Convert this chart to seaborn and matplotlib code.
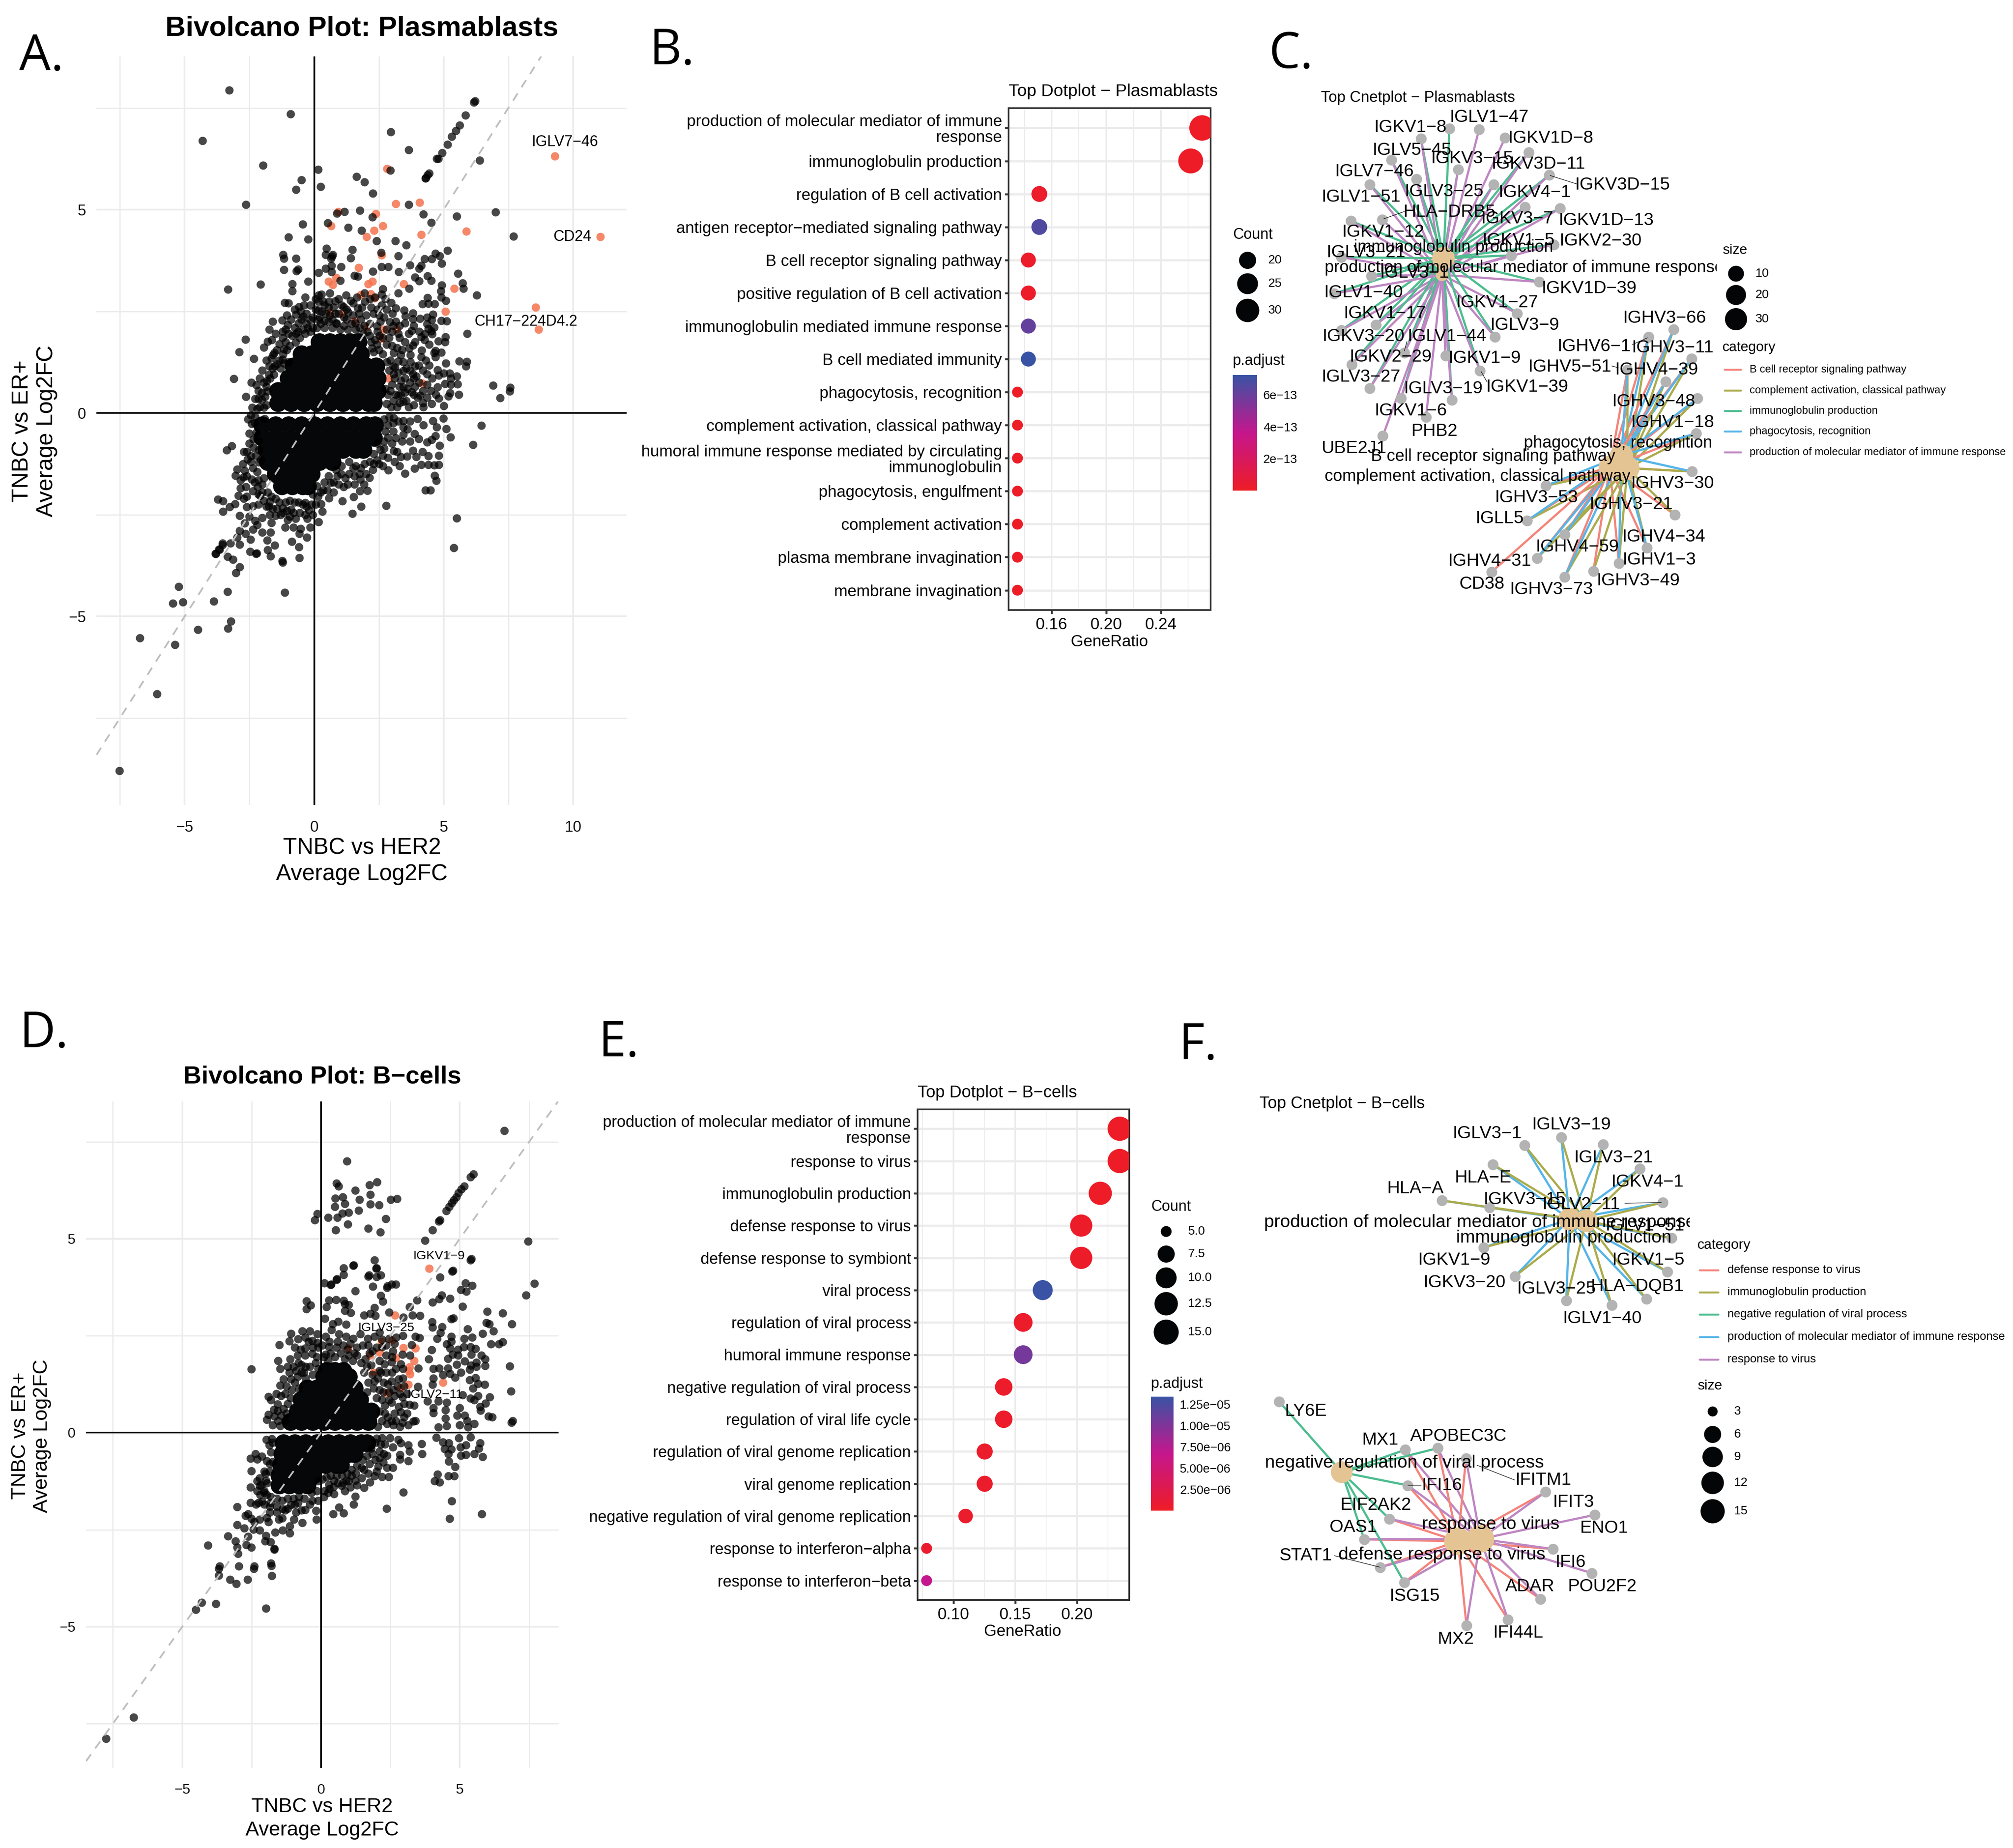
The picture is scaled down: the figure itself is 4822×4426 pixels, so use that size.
import numpy as np
import pandas as pd
import matplotlib
matplotlib.use("Agg")
import matplotlib.pyplot as plt
from matplotlib.colors import LinearSegmentedColormap, Normalize
from matplotlib.cm import ScalarMappable
import seaborn as sns

# ---------- volcano A values (log2FC pairs) ----------
a_core = [(-1.4,.25),(-.9,.25),(-.4,.25),(.1,.25),(.6,.25),(1.1,.25),(1.6,.25),(2.1,.25),(2.3,.25),
 (-1.4,.55),(-.9,.55),(-.4,.55),(.1,.55),(.6,.55),(1.1,.55),(1.6,.55),(2.1,.55),(2.45,.55),
 (-1.0,.85),(-.5,.85),(0,.85),(.5,.85),(1,.85),(1.5,.85),(2,.85),(2.45,.85),
 (-.8,1.15),(-.4,1.15),(0,1.15),(.5,1.15),(1,1.15),(1.5,1.15),(2,1.15),(2.4,1.15),
 (-.5,1.45),(-.1,1.45),(.4,1.45),(.9,1.45),(1.4,1.45),(1.8,1.45),
 (.2,1.75),(.6,1.75),(1,1.75),(1.4,1.75),(1.7,1.75),
 (-2,-.3),(-1.5,-.3),(-1,-.3),(-.5,-.3),(0,-.3),(.5,-.3),(1,-.3),(1.5,-.3),(2,-.3),(2.35,-.3),
 (-2,-.6),(-1.5,-.6),(-1,-.6),(-.5,-.6),(0,-.6),(.5,-.6),(1,-.6),(1.5,-.6),(2,-.6),(2.3,-.6),
 (-1.85,-.9),(-1.4,-.9),(-.9,-.9),(-.4,-.9),(.1,-.9),(.6,-.9),(1.1,-.9),(1.6,-.9),(1.9,-.9),
 (-1.8,-1.2),(-1.3,-1.2),(-.8,-1.2),(-.3,-1.2),(.2,-1.2),(.7,-1.2),
 (-1.5,-1.5),(-1.1,-1.5),(-.7,-1.5),(-.3,-1.5),(-.1,-1.5),
 (-1.25,-1.8),(-.85,-1.8),(-.45,-1.8),(-.25,-1.8)]
a_left = [(-1.2,3.89),(-1.17,3.8),(-.7,3.8),(-1.17,3.52),(-.62,3.53),(-.69,3.49),(-.23,3.24),(-.84,3.17),(-.85,3.0),
 (-2.08,3.16),(-3.33,3.04),(-1.14,2.71),(-.99,2.7),(-.59,2.61),(-.53,2.5),(-.7,2.42),(-.43,2.37),(-1.6,2.25),(-1.23,2.28),
 (-1.03,2.17),(-.6,2.21),(-.16,2.29),(-1.73,2.06),(-1.22,2.0),(-.99,1.95),(-.62,2.0),(-2.65,1.81),(-1.63,1.8),(-1.8,1.76),
 (-1.22,1.85),(-.71,1.74),(-1.95,1.61),(-2.9,1.5),(-1.17,1.57),(-1.54,1.48),(-1.59,1.43),(-2.33,1.34),(-1.22,1.32),
 (-1.74,1.15),(-1.52,1.15),(-1.17,1.22),(-3.1,.84),(-2.42,.75),(-2.24,.69),(-1.83,.79),(-2.03,.49),(-2.63,.4),(-2.28,.35),
 (-2.02,.33),(-2.4,.13),(-1.95,.13),(-1.82,.54)]
a_right_up = [(.44,3.89),(.72,3.89),(.65,3.8),(.67,3.63),(1.04,3.59),(1.41,3.81),(.44,3.55),(.67,3.47),(.17,3.45),(1.0,3.26),
 (1.55,3.38),(1.69,3.36),(2.27,3.48),(2.61,3.59),(2.87,3.59),(3.25,3.86),(2.58,3.94),(3.27,3.47),(4.27,3.79),(4.54,3.79),
 (4.68,3.92),(4.84,3.86),(4.93,3.68),(4.13,3.63),(4.06,3.55),(3.7,3.64),(3.9,3.34),(4.06,3.25),(4.38,3.37),(4.52,3.26),
 (5.56,3.43),(5.74,3.19),(5.77,3.06),(6.28,2.9),(4.93,3.14),(4.89,3.0),(4.91,2.85),(5.08,2.76),(4.38,2.84),(4.19,2.68),
 (4.41,2.69),(4.66,2.68),(3.48,2.53),(3.81,2.46),(4.59,2.42),(3.53,2.38),(3.81,2.31),(4.08,2.32),(4.36,2.35),(4.54,2.29),
 (4.91,2.27),(5.12,2.26),(3.51,2.21),(4.36,2.19),(4.64,2.11),(4.41,2.08),(3.76,2.02),(4.53,2.01),(5.91,1.95),(4.55,1.94),
 (4.27,1.94),(4.13,1.87),(3.3,1.85),(5.07,1.87),(5.06,1.75),(4.79,1.77),(4.27,1.8),(4.45,1.69),(3.82,1.66),(3.67,1.59),
 (4.16,1.54),(4.68,1.53),(4.91,1.49),(4.64,1.48),(3.07,1.48),(3.35,1.43),(3.71,1.43),(4.13,1.38),(4.68,1.38),(3.25,1.27),
 (3.71,1.25),(4.32,1.3),(4.04,1.17),(4.45,1.17),(5.08,1.22),(5.61,1.27),(5.9,1.26),(5.86,1.15),(3.44,1.04),(3.12,1.12),
 (3.07,.96),(4.77,1.06),(5.0,.98),(5.24,.98),(3.81,.96),(4.36,.96),(4.82,.93),(5.51,.91),(3.85,.85),(5.28,.85),(3.44,.64),
 (4.36,.7),(4.77,.64),(5.05,.72),(5.28,.7),(5.54,.71),(3.35,.8),(3.76,.51),(4.08,.43),(4.36,.38),(4.82,.36),(5.25,.49),
 (5.19,.41),(5.59,.45),(6.91,.68),(7.57,.63),(7.55,.54),(7.19,.37),(3.25,.43),(3.44,.28),(3.85,.2),(4.22,.15),(4.54,.23),
 (5.0,.18),(2.98,.15),(2.79,.23),(3.99,.38),(.17,2.9),(.28,2.92),(.6,2.95),(1.23,2.9),(1.41,2.76),(.17,2.74),(.35,2.74),
 (.58,2.74),(.81,2.75),(1.13,2.61),(1.69,2.58),(1.96,2.74),(.17,2.53),(.44,2.45),(.81,2.45),(1.32,2.48),(1.73,2.45),
 (3.02,2.45),(2.98,2.71),(2.61,2.92),(3.16,2.58),(.17,2.29),(.4,2.27),(.86,2.21),(1.59,2.21),(2.93,2.24),(2.42,2.14),
 (2.79,2.06),(2.52,1.9),(3.25,1.95),(2.15,1.9),(2.79,1.69),(2.42,1.69),(2.24,1.59),(2.65,3.05),(3.25,2.95),(3.67,3.06)]
a_lower = [(3.07,-.12),(3.44,-.19),(3.99,-.14),(4.59,-.19),(4.99,-.13),(4.73,-.35),(4.22,-.3),(3.44,-.35),(5.1,-.39),(5.26,-.59),
 (6.46,-.31),(6.13,-.78),(3.16,-.61),(3.44,-.53),(3.88,-.51),(4.04,-.64),(4.68,-.56),(4.54,-.66),(4.84,-.8),(4.36,-.72),
 (3.81,-.92),(4.18,-.95),(2.7,-.87),(3.07,-.93),(3.35,-1.08),(3.58,-1.07),(3.94,-1.08),(4.41,-1.06),(4.82,-1.05),(4.41,-1.27),
 (4.64,-1.28),(4.82,-1.27),(3.88,-1.36),(4.13,-1.27),(2.87,-1.41),(3.5,-1.49),(4.65,-1.54),(4.71,-1.66),(4.29,-1.9),(4.49,-1.9),
 (5.5,-2.59),(5.39,-3.32),(2.78,-2.28),(1.82,-2.3),(1.48,-2.47),(1.52,-2.06),(1.09,-2.16),(1.76,-1.92),(2.05,-1.91),(1.92,-1.75),
 (2.27,-1.4),(2.42,-1.16),(2.13,-1.59),(1.78,-1.63),(1.5,-1.35),(1.04,-1.5),(.63,-1.71),(1.13,-1.82),(.58,-2.09),(.26,-2.24),
 (.32,-2.42),(.17,-2.68),(-.16,-2.81),(-.27,-2.6),(-.28,-3.06),(-.53,-2.84),(-.87,-3.16),(-.59,-3.29),(-.58,-3.56),(-1.23,-3.63),
 (-1.68,-3.52),(-1.8,-3.37),(-2.21,-3.45),(-2.47,-3.41),(-1.52,-3.25),(-1.82,-3.13),(-2.88,-3.23),(-2.46,-3.11),(-2.65,-2.97),
 (-2.97,-3.06),(-3.54,-3.2),(-3.24,-3.2),(-3.66,-3.36),(-3.82,-3.46),(-3.34,-3.53),(-3.13,-3.6),(-2.88,-3.79),(-3.03,-3.93),
 (-2.88,-2.89),(-2.37,-2.86),(-2,-2.94),(-1.68,-2.94),(-1.12,-2.81),(-.8,-2.81),(-.57,-2.97),(-1.03,-2.63),(-1.49,-2.52),(-2,-2.58),
 (-2.28,-2.65),(-2.88,-2.52),(-2.69,-2.71),(-3.52,-2.42),(-3.27,-2.31),(-3.71,-2.12),(-3.52,-2.17),(-3.06,-2.24),(-2.92,-2.03),
 (-2.72,-2.1),(-2.6,-2.31),(-2.37,-2.29),(-3.38,-.91),(-3.19,-.81),(-2.71,-.95),(-2.44,-1.06),(-2.58,-1.14),(-2.14,-1.21),(-2.97,-1.38),
 (-3.04,-1.54),(-2.69,-1.42),(-2.74,-1.58),(-2.37,-1.35),(-2.41,-1.63),(-2.63,-1.82),(-2.18,-1.82),(-2.37,-1.92),(-2.28,-.09),
 (-2.41,-.27),(-2.23,-.48),(-2.14,-.69),(-2.14,-.9),(-1.91,-.14),(-2.09,-2.03),(-1.72,-2.18),(-1.22,-2.34),(-.34,-2.21),(-.89,-2.37),
 (-.71,-2.6),(-.2,-2.39),(-1.72,-2.5)]
a_fringe = [(-1.75,.95),(-1.6,1.1),(-1.45,1.2),(-1.3,1.1),(-1.2,1.45),(-1.05,1.55),(-1.1,1.75),(-.95,1.65),(-.85,1.9),(-.75,2.1),(-.7,1.95),
 (-.55,1.85),(-.45,2.05),(-.35,1.95),(-.25,2.1),(-.15,2.0),(-.05,2.1),(-.5,2.3),(-.3,2.2),(-1.85,.65),(-1.9,.4),(-1.85,.2),(-2.1,.15),(-2.15,.55),
 (-1.95,.75),(-1.7,.85),(-1.55,.95),(-1.35,1.3),(-1.0,1.25),(.1,2.1),(.25,2.2),(.4,2.1),(.55,2.25),(.7,2.1),(.85,2.2),(1.0,2.05),(1.15,2.15),(1.3,2.05),
 (1.45,2.2),(1.6,2.05),(1.75,2.1),(1.9,1.95),(2.05,2.0),(2.2,1.75),(2.35,1.8),(2.15,2.2),(2.3,2.45),(2.5,1.55),(2.65,1.45),(2.3,1.5),(2.8,1.25),(2.95,1.3),
 (3.05,1.15),(2.9,1.05),(3.1,.85),(3.0,.7),(2.95,.55),(3.15,.45),(3.05,.3),(2.85,.45),(2.75,.6),(3.3,.65),(3.5,.85),(3.25,1.0),(3.6,.6),(3.55,.3),(3.3,.25),
 (3.7,.75),(3.9,.65),(3.65,.15),(.3,2.5),(.6,2.4),(.95,2.45),(1.15,2.35),(1.5,2.4),(1.8,2.3),(2.0,2.4),(2.55,2.25),(2.7,2.35),(2.2,2.6),(2.45,2.55),(.05,2.55),
 (.2,2.35),(.55,2.6),(1.05,2.65),(1.5,2.7),(1.85,2.6),(2.35,2.85),(2.6,2.65),(2.8,2.55),(3.05,2.15),(3.15,2.25),(2.9,1.85),(3.0,1.65),(3.2,1.6),(3.5,1.75),
 (3.65,1.95),(3.85,2.15),(4.05,2.0),(3.9,1.75),(3.45,1.25),(3.9,1.15),(4.2,1.05),(4.55,.85),(4.7,.45),(4.2,.55),(4.5,.55),(3.95,.9),
 (-2.45,-.05),(-2.3,-.25),(-2.35,-.65),(-2.35,-.85),(-2.25,-1.05),(-2.05,-1.15),(-2.2,-1.45),(-2.15,-1.65),(-2.0,-1.75),(-1.95,-1.6),(-2,-1.95),(-1.8,-1.95),
 (-1.65,-2.05),(-1.5,-2.1),(-1.35,-2.2),(-1.1,-2.2),(-.95,-2.15),(-.75,-2.2),(-.6,-2.2),(-.45,-2.25),(-.3,-2.3),(-.1,-2.25),(-.05,-2.0),(.1,-1.8),(.25,-1.95),
 (.4,-1.7),(.35,-1.9),(.55,-1.55),(.75,-1.7),(.9,-1.55),(.85,-1.4),(1.05,-1.3),(1.2,-1.6),(1.35,-1.5),(1.55,-1.55),(1.35,-1.2),(1.6,-1.3),(1.8,-1.35),(1.95,-1.25),
 (2.15,-1.2),(2.3,-1.0),(2.55,-.9),(2.45,-.75),(2.7,-.7),(2.75,-.45),(2.85,-.3),(2.7,-.15),(2.9,-.1),(2.65,-1.05),(2.85,-1.1),(3.0,-.75),(3.2,-.95),(3.25,-.2),
 (3.6,-.4),(3.7,-.2),(3.7,-.7),(2.5,-1.25),(-1.2,-2.45),(-1.85,-2.3),(-1.6,-2.35),(-2.15,-2.25),(-2.6,-2.05),(-2.85,-1.85),(-2.6,-1.55),(-2.45,-1.2),(-2.85,-1.65)]
a_fringe_outer = [(-1.45,1.55),(-1.35,1.7),(-1.5,1.95),(-1.1,2.05),(-.9,2.3),(-1.05,2.4),(-.75,2.55),(-.3,2.45),(-.4,2.65),(-.05,2.35),(-.15,2.65),(-.35,2.85),
 (.05,2.8),(.4,2.65),(.75,2.6),(.95,2.8),(1.25,2.55),(1.65,2.85),(1.95,2.95),(2.15,2.8),(2.5,2.4),(2.75,2.8),(3.0,2.0),(2.65,1.85),(2.45,2.0),(1.95,2.15),(1.25,2.3),
 (.7,2.3),(3.3,2.15),(3.4,1.55),(3.55,1.1),(3.7,1.05),(3.35,.45),(3.85,.45),(4.05,.75),(4.2,.25),(3.2,.15),(3.5,.5),
 (-2.15,.35),(-2.2,.1),(-2.1,.85),(-2.0,1.05),(-1.85,1.3),(-1.65,1.35),(-2.55,-.15),(-2.5,-.5),(-2.5,-.75),(-2.6,-.95),(-2.75,-1.25),(-2.3,-1.7),
 (-2.15,-2.0),(-1.95,-2.15),(-1.75,-2.3),(-1.45,-2.35),(-1.3,-2.5),(-1.05,-2.4),(-.8,-2.45),(-.55,-2.45),(-.35,-2.5),(-.05,-2.5),(.05,-2.25),(.15,-2.05),(.5,-1.9),(.75,-1.95),(.95,-1.75),
 (1.3,-1.75),(1.55,-1.75),(1.75,-1.5),(2.0,-1.5),(2.3,-1.25),(2.65,-1.3),(2.85,-.6),(3.05,-.45),(3.4,-.7),(3.1,-1.2),(3.3,-1.3),(3.05,-.25),(-.95,-2.55),(-1.65,-2.7),(-2.2,-2.75),(-2.5,-2.55)]
a_far = [(-3.29,7.94),(-.91,7.35),(-4.32,6.7),(-1.97,6.09),(-.49,5.73),(-.7,5.49),(-2.64,5.13),(.16,5.99),(.25,5.57),(1.63,5.81),
 (1.94,5.68),(2.27,5.4),(2.94,5.97),(2.96,6.91),(3.65,6.47),(3.66,5.12),(1.17,4.95),(1.77,4.98),(.88,4.91),(2.25,4.82),(.52,4.67),
 (-.44,4.64),(1.31,4.56),(1.83,4.49),(-.99,4.32),(-.23,4.27),(2.41,4.23),(3.13,4.23),(4.21,4.89),(4.52,4.68),(5.51,4.84),(7.0,4.94),
 (7.7,4.34),(6.4,6.21),(6.21,7.67),(6.17,7.64),(5.85,7.32),(5.62,7.08),(5.48,6.94),(5.32,6.8),(5.15,6.6),(4.95,6.4),(4.79,6.25),
 (4.73,6.25),(4.44,5.9),(4.32,5.78),(4.29,5.77),(4.38,5.85),(.47,4.05),(.69,3.85),(1.47,4.02),
 (3.55,4.13),(5.15,4.0),(-1.14,-4.41),(-5.24,-4.27),(-5.46,-4.68),(-5.07,-4.65),(-3.88,-4.63),(-3.35,-4.39),(-3.22,-5.12),(-3.33,-5.3),(-4.49,-5.33),
 (-5.38,-5.7),(-6.74,-5.53),(-6.07,-6.91),(-7.53,-8.8),(-3.79,-3.46),(-3.54,-3.24),(-3.69,-3.36),
 (-1.22,-3.67),(-2.25,-3.46)]
a_hits = [(9.3,6.32),(11.05,4.33),(8.56,2.6),(8.67,2.05),(2.82,6.01),(4.07,5.18),(3.15,5.15),(.92,4.95),(2.38,4.9),(2.66,4.6),(.66,4.6),
 (2.32,4.49),(2.03,4.33),(5.88,4.47),(4.13,4.39),(2.61,3.88),(1.71,3.57),(.55,3.24),(.72,3.15),(.85,3.33),(3.46,3.17),(5.41,3.06),
 (1.8,2.91),(2.19,2.93),(2.33,2.82),(2.08,3.17),(2.25,3.24),(5.07,2.5),(1.08,2.43),(1.58,2.26),(2.68,2.05),(3.19,2.07),(2.02,2.12),
 (2.88,.85),(4.18,.73),(.61,2.47),(2.57,1.83)]
a_labels = ["IGLV7\u221246", "CD24", "CH17\u2212224D4.2"]
a_label_x = [9.69, 9.97, 8.17]
a_label_y = [6.66, 4.33, 2.24]

# ---------- volcano D values ----------
d_core = [(-1.1,.28),(-.7,.28),(-.3,.28),(.1,.28),(.5,.28),(.9,.28),(1.3,.28),(1.7,.28),
 (-.85,.55),(-.45,.55),(-.05,.55),(.35,.55),(.75,.55),(1.15,.55),(1.5,.55),(1.8,.55),
 (-.7,.85),(-.35,.85),(0,.85),(.35,.85),(.7,.85),(1.05,.85),(1.4,.85),
 (-.5,1.15),(-.15,1.15),(.2,1.15),(.55,1.15),(.9,1.15),(1.2,1.15),
 (.1,1.45),(.4,1.45),(.7,1.45),(1.0,1.45),(.2,1.6),(.5,1.6),(.8,1.6),
 (-1.35,-.27),(-.95,-.27),(-.55,-.27),(-.15,-.27),(.25,-.27),(.65,-.27),(1.05,-.27),(1.45,-.27),(1.65,-.27),
 (-1.4,-.55),(-1,-.55),(-.6,-.55),(-.2,-.55),(.2,-.55),(.6,-.55),(1,-.55),(1.2,-.55),
 (-1.45,-.82),(-1.05,-.82),(-.65,-.82),(-.25,-.82),(.15,-.82),(.55,-.82),(.7,-.82),
 (-1.5,-1.1),(-1.1,-1.1),(-.7,-1.1),(-.3,-1.1),(-1.5,-1.35),(-1.15,-1.35),(-.8,-1.35),(-.5,-1.35)]
d_upper = [(-2.51,1.64),(-1.51,2.26),(-1.15,2.36),(-1.08,2.55),(-1.55,1.86),(-1.47,1.65),(-1.11,1.9),(-1.0,1.7),(-.81,1.8),(-.67,2.62),
 (-.4,2.62),(-.14,2.54),(-.83,2.41),(-.57,2.46),(-.31,2.37),(-.14,2.32),(-.74,2.15),(-.57,2.18),(-.31,2.04),(-.57,1.99),(-.53,3.39),
 (-.38,3.29),(-.52,3.19),(-1.35,1.38),(-1.48,1.22),(-1.09,1.38),(-1.61,1.0),(-1.89,.93),(-1.8,.84),(-1.56,.74),(-1.3,1.0),(-1.56,.56),
 (-1.89,.47),(-1.95,.34),(-1.69,.42),(-1.48,.18),(-1.35,.62),(-.61,1.55),(.12,3.86),(.35,3.81),(.55,3.94),(.81,4.24),(.81,4.07),
 (1.16,4.31),(1.92,4.45),(1.98,4.23),(1.7,4.03),(2.0,4.02),(1.87,3.77),(1.24,3.65),(2.37,3.74),(2.54,3.83),(2.69,3.83),(2.15,3.53),
 (2.22,3.38),(.28,3.42),(.54,3.43),(.81,3.41),(1.0,3.3),(.85,3.32),(.19,3.24),(.85,3.15),(1.07,3.09),(1.93,3.22),(.14,2.94),(.42,2.8),
 (.62,2.87),(.9,2.79),(1.55,3.03),(1.78,3.07),(1.95,3.02),(2.45,3.1),(2.97,2.98),(3.29,3.03),(3.56,3.02),(3.19,3.24),(3.46,3.42),
 (4.02,3.36),(4.25,3.45),(4.35,3.55),(4.65,3.46),(5.1,3.26),(5.04,3.68),(5.24,3.64),(5.2,3.86),(5.44,3.79),(4.73,4.16),(4.28,4.01),
 (3.75,4.96),(5.39,4.45),(7.46,4.93),(7.68,3.85),(7.39,3.55),(5.99,3.13),(6.55,3.08),(6.88,2.8),(5.95,2.84),(6.06,2.8),(6.21,2.62),
 (5.82,2.55),(5.28,2.67),(4.7,2.93),(4.77,2.95),(4.0,2.86),(4.01,2.72),(4.37,2.73),(4.31,2.58),(4.18,2.43),(4.7,2.48),(5.16,2.43),
 (5.45,2.46),(3.98,2.14),(3.88,1.9),(4.53,2.29),(4.7,2.35),(4.65,2.18),(4.94,2.15),(5.15,2.21),(5.39,2.21),(5.56,2.17),(4.74,2.02),
 (4.94,2.0),(4.57,1.91),(5.41,2.02),(5.78,2.0),(5.91,1.9),(6.13,2.29),(6.41,2.29),(6.55,2.34),(6.8,1.71),(5.17,1.84),(5.6,1.81),
 (5.91,1.73),(4.89,1.76),(5.4,1.74),(5.6,1.7),(4.05,1.65),(4.25,1.66),(4.57,1.66),(5.35,1.63),(5.04,1.55),(4.4,1.49),(4.65,1.52),
 (4.83,1.42),(5.35,1.36),(5.56,1.41),(4.05,1.4),(5.65,1.26),(5.89,1.24),(4.02,1.24),(5.47,1.14),(5.1,.97),(5.39,.89),(6.84,1.07),
 (6.08,.92),(5.65,.95),(5.52,.84),(5.93,.76),(5.73,.67),(5.75,.57),(5.0,.64),(4.05,.64),(4.48,.59),(4.91,.45),(4.05,.51),(4.48,.37),
 (5.17,.45),(5.26,.31),(6.04,.42),(6.17,.4),(6.9,.31),(6.86,.26),(5.52,.23),(5.3,.14),(5.0,.2),(4.22,.14),(4.53,.18),(3.32,.29),(3.4,.31),
 (3.83,.81),(4.22,.81),(4.53,.78),(3.36,.7),(3.19,.73),(3.49,1.19),(2.93,.92),(2.8,.67),(2.88,.53),(2.93,.26),(2.54,.31),(2.37,.23),
 (2.54,.78),(2.71,2.46),(2.95,2.5),(3.4,2.48),(3.55,2.45),(3.27,2.26),(2.88,1.77),(3.51,1.66),(3.2,1.99),(2.58,2.1),(2.93,2.02),(2.8,1.38),
 (2.54,1.82),(2.28,1.77),(1.93,2.48),(2.11,2.59),(1.68,2.43),(1.42,2.54),(1.16,2.43),(.9,2.48),(.64,2.54),(.38,2.65),(.16,2.48),(.29,2.21),
 (.16,2.02),(2.45,2.43),(2.19,2.21),(2.54,1.33),(2.11,1.6),(1.93,1.33),(2.24,1.05),(2.45,.84)]
d_fringe = [(-1.3,.3),(-1.45,.45),(-1.25,.5),(-1.55,.3),(-1.2,.75),(-1.1,.9),(-1.05,1.1),(-.95,1.3),(-.85,1.45),(-.8,1.15),(-.7,1.55),(-.55,1.4),(-.4,1.7),
 (-.3,1.5),(-.2,1.8),(-.1,1.65),(-.7,1.75),(-.9,1.6),(-1.15,1.55),(-.85,2.0),(-.3,2.2),(-.15,1.95),(.1,1.95),(.25,1.85),(.35,2.05),(.5,1.95),(.7,2.05),(.85,1.9),
 (1,2.0),(1.15,1.85),(1.3,2.0),(1.45,1.8),(1.6,1.9),(1.3,2.2),(.8,2.25),(.55,2.2),(1.05,2.3),(1.5,2.25),(1.55,1.55),(1.65,1.7),(1.8,1.75),(1.7,1.3),(1.85,1.5),
 (1.65,1.05),(1.9,1.15),(2.05,1.4),(2.1,1.1),(2,.9),(2.2,.85),(2.3,.7),(2.3,.5),(2.1,.55),(2.2,.3),(2.05,.15),(2.4,.4),(2.65,.5),(2.6,.2),(2.25,1.3),(2.35,1.55),
 (2.6,1.1),(2.65,.95),(2.4,1.25),(2.55,1.55),(2.7,1.65),(2.1,1.85),(2.35,2.0),(1.85,2.1),(2.75,1.2),(2.85,1.0),(3.0,.75),(2.7,.3),(2.2,2.4),(2.65,2.3),(1.7,2.25),
 (-1.75,-.25),(-1.8,-.5),(-1.85,-.8),(-1.85,-1.0),(-1.95,-1.3),(-2.05,-1.5),(-1.95,-1.6),(-1.8,-1.65),(-1.6,-1.7),(-1.4,-1.75),(-1.2,-1.7),(-1.0,-1.7),(-.8,-1.65),
 (-.6,-1.7),(-.35,-1.55),(-.15,-1.5),(-.1,-1.25),(.05,-1.2),(.2,-1.15),(.35,-1.1),(.55,-1.1),(.75,-1.1),(.95,-1.05),(1.1,-.95),(1.3,-.85),(1.5,-.7),(1.65,-.6),
 (1.8,-.4),(1.95,-.25),(2.0,-.15),(2.15,-.3),(2.25,-.55),(1.1,-1.1),(.3,-1.45),(.45,-1.4),(-2.2,-1.6),(-2.3,-1.25),(-1.3,-2.0),(-.9,-2.05),(-1.6,-2.05),(-1.85,-2.05)]
d_fringe_outer = [(-1.7,.6),(-1.75,.2),(-1.45,.95),(-1.25,1.2),(-1.2,1.7),(-.95,2.2),(-.55,1.7),(-.45,2.35),(-.1,2.2),(.05,2.25),(.3,2.35),(.6,2.35),(.95,2.15),(1.2,2.05),
 (1.75,2.05),(2.0,2.2),(2.35,2.25),(2.55,1.95),(2.95,1.65),(2.95,1.4),(3.0,1.2),(3.1,1.0),(3.1,.5),(3.0,.4),(3.15,.2),(2.85,.15),(2.45,1.05),(2.15,1.55),
 (-1.75,-.75),(-2.0,-1.05),(-2.15,-1.35),(-2.3,-1.5),(-2.25,-1.8),(-2.05,-1.85),(-1.85,-1.9),(-1.6,-1.9),(-1.2,-1.95),(-.95,-1.85),(-.7,-2.0),(-.4,-1.85),(-.1,-1.75),(.1,-1.65),(.25,-1.55),
 (.6,-1.3),(.8,-1.3),(1.0,-1.25),(1.25,-1.05),(1.55,-.95),(1.75,-.8),(1.95,-.7),(2.1,-.65),(2.3,-.3),(2.0,-1.0),(1.7,-1.05),(1.3,-1.35),(.85,-1.5),(-1.9,-2.3),(-1.4,-2.2),(-2.4,-2.3)]
d_lower = [(2.19,-.14),(2.48,-.14),(2.78,-.18),(2.87,-.26),(3.14,-.32),(3.62,-.29),(3.64,-.55),(3.19,-.48),(2.58,-.37),(2.84,-.57),(2.84,-.69),
 (3.14,-.73),(2.37,-.59),(2.11,-.48),(1.85,-.54),(2.06,-.87),(2.37,-.9),(2.58,-.9),(2.24,-.76),(2.44,-1.14),(2.19,-1.14),(1.92,-1.12),
 (1.76,-1.28),(1.55,-1.42),(1.05,-1.41),(1.46,-1.17),(1.24,-1.64),(1.18,-1.85),(.64,-1.92),(.43,-2.1),(.81,-2.07),(-.18,-2.01),(-.16,-2.24),
 (-.67,-2.32),(.47,-1.58),(.47,-1.23),(.12,-1.5),(.73,-1.36),(.9,-1.23),(1.24,-1.23),(1.46,-.9),(.29,-1.34),(2.96,-1.54),(2.36,-1.95),
 (4.2,-1.07),(4.09,-1.24),(4.27,-1.28),(4.59,-1.12),(4.8,-1.12),(4.83,-.88),(4.61,-.74),(4.59,-.54),(4.7,-.43),(4.46,-.42),(4.15,-.13),
 (4.4,-.24),(4.61,-.26),(4.96,-.14),(5.39,-.11),(5.03,-.37),(5.22,-.32),(5.73,-.26),(5.68,-.4),(5.04,-.59),(5.22,-.57),(5.52,-.54),(5.82,-.62),
 (4.71,-1.76),(4.63,-2.21),(5.79,-2.09),(-1.97,-.18),(-1.78,-.16),(-1.87,-.32),(-2.36,-.54),(-2.54,-.66),(-2.14,-.61),(-2.3,-.68),(-1.95,-.73),
 (-2.51,-.99),(-2.04,-1.0),(-2.21,-1.17),(-1.99,-1.23),(-2.54,-1.41),(-2.21,-1.36),(-2.04,-1.55),(-2.54,-1.8),(-2.34,-1.85),(-3.03,-1.91),
 (-2.12,-1.77),(-1.82,-1.8),(-1.39,-1.97),(-1.09,-1.86),(-.57,-1.99),(-.31,-1.75),(-.83,-1.8),(-2.64,-2.1),(-2.73,-2.14),(-2.51,-2.21),
 (-2.21,-2.24),(-1.95,-2.19),(-1.52,-2.24),(-.98,-2.23),(-1.13,-2.41),(-1.39,-2.52),(-1.13,-2.59),(-1.65,-2.57),(-1.99,-2.65),(-2.21,-2.52),
 (-2.43,-2.49),(-2.77,-2.46),(-3.03,-2.38),(-3.35,-2.67),(-3.09,-2.79),(-2.64,-2.68),(-2.02,-2.79),(-1.82,-2.82),(-2.69,-2.89),(-2.51,-2.96),
 (-3.03,-2.96),(-2.99,-3.12),(-1.68,-2.99),(-4.08,-2.9),(-1.8,-3.37),(-2.4,-3.44),(-2.97,-3.44),(-3.66,-3.44)]
d_far = [(.93,7.0),(6.61,7.79),(.55,6.43),(.63,6.35),(.78,6.08),(1.74,6.39),(2.02,6.46),(1.24,6.25),(1.77,6.14),(1.39,6.01),(2.51,6.01),(2.74,6.03),
 (.51,6.04),(.49,5.83),(.86,5.9),(1.77,5.89),(2.09,5.87),(1.36,5.73),(1.0,5.68),(.77,5.66),(.59,5.55),(.26,5.55),(-.13,5.64),(-.22,5.48),
 (.97,5.38),(2.33,5.51),(1.7,5.27),(.53,5.22),(2.13,5.17),(5.49,6.67),(5.38,6.59),(5.16,6.36),(5.05,6.28),(4.95,6.18),(4.87,6.08),(4.78,6.0),
 (4.71,5.92),(4.62,5.83),(4.51,5.72),(4.28,5.48),(4.24,5.45),(4.01,5.22),(5.41,4.48),(4.76,4.18),(2.0,4.25),(1.73,4.06),
 (2.15,4.06),(1.17,4.32),(.57,3.96),(.36,3.83),(2.39,3.78),
 (-1.98,-4.53),(-3.79,-4.41),(-4.3,-4.38),(-4.51,-4.56),(-6.76,-7.34),(-7.75,-7.89),(-3.68,-3.51),
 (-3.69,-3.68),(-3.28,-3.78),(-3.05,-3.89),(-2.65,-3.78),(-2.42,-3.5),(-1.79,-3.43),(-1.78,-3.69),(-1.69,-3.01)]
d_hits = [(3.89,4.23),(2.56,2.38),(2.18,2.35),(2.97,2.19),(3.4,2.18),(2.69,1.93),(3.36,1.86),(3.19,1.69),(3.16,1.6),(3.21,1.51),(3.14,1.24),(4.4,1.3),
 (2.67,3.03),(1.76,1.99),(2.11,2.07),(.98,2.18),(2.37,1.03),(2.88,1.16),(1.89,1.55)]
d_labels = ["IGKV1\u22129", "IGLV3\u221225", "IGLV2\u221211"]
d_label_x = [4.24, 2.35, 4.1]
d_label_y = [4.56, 2.71, .98]

# ---------- dotplot B ----------
b_terms = ["production of molecular mediator of immune\nresponse", "immunoglobulin production", "regulation of B cell activation",
 "antigen receptor\u2212mediated signaling pathway", "B cell receptor signaling pathway", "positive regulation of B cell activation",
 "immunoglobulin mediated immune response", "B cell mediated immunity", "phagocytosis, recognition",
 "complement activation, classical pathway", "humoral immune response mediated by circulating\nimmunoglobulin",
 "phagocytosis, engulfment", "complement activation", "plasma membrane invagination", "membrane invagination"]
b_ratio = [.2702,.2619,.151,.151,.143,.143,.143,.143,.135,.135,.135,.135,.135,.135,.135]
b_count = [33,32,18,18,17,17,17,17,13,13,13,13,13,13,13]
b_padj = [.1e-13,.1e-13,.2e-13,6.6e-13,.2e-13,.2e-13,6.1e-13,7.2e-13,.1e-13,.1e-13,.1e-13,.1e-13,.1e-13,.1e-13,.1e-13]

# ---------- dotplot E ----------
e_terms = ["production of molecular mediator of immune\nresponse", "response to virus", "immunoglobulin production",
 "defense response to virus", "defense response to symbiont", "viral process", "regulation of viral process",
 "humoral immune response", "negative regulation of viral process", "regulation of viral life cycle",
 "regulation of viral genome replication", "viral genome replication", "negative regulation of viral genome replication",
 "response to interferon\u2212alpha", "response to interferon\u2212beta"]
e_ratio = [.2344,.2344,.2187,.2033,.2033,.1722,.1564,.1564,.1407,.1407,.1253,.1253,.1099,.0784,.0784]
e_count = [15,15,14,13,13,11,10,10,9,9,8,8,7,5,5]
e_padj = [.2e-6,.2e-6,.2e-6,.3e-6,.3e-6,13.3e-6,.4e-6,10.5e-6,.4e-6,.4e-6,.5e-6,.5e-6,.5e-6,.6e-6,6.7e-6]

# ---------- network C (layout coordinates) ----------
c_cat = {"i":(423,578),"p":(420,622),"f":(778,1105),"b":(755,1135),"c":(790,1138)}
c_cat_size = {"i":54,"p":30,"f":56,"b":54,"c":58}
c_gx = [435,494,546,378,593,319,452,369,634,276,523,586,656,301,238,643,558,219,279,614,570,288,219,526,345,427,240,496,276,338,440,388,302,205,
        832,882,918,790,866,930,927,919,885,829,773,722,665,610,665,590,627,519]
c_gy = [232,234,256,258,295,315,341,367,356,381,381,441,445,475,478,541,570,575,625,641,725,755,770,788,830,838,861,878,925,952,956,1002,1052,672,
        788,768,846,876,907,952,1045,1147,1263,1350,1392,1413,1428,1378,1315,1278,1185,1415]
c_gsets = ["i","p","p","ip","ip","ip","ip","ip","ip","ip","ip","ip","ip","p","ip","ip","ip","ip","ip","ip","ip","ip","ip","ip","ip","ip","ip","ip","ip","ip","ip","p","p","ip",
        "bcf","bcf","bcf","bcf","bcf","bcf","bcf","bcf","bc","bcf","bcf","bc","bcf","bcf","bcf","bcf","bcf","b"]
c_gene_txt = ["IGKV1\u22128","IGLV1\u221247","IGKV1D\u22128","IGLV5\u221245","IGKV3\u221215","IGKV3D\u221211","IGLV7\u221246","IGLV3\u221225","IGKV4\u22121","IGKV3D\u221215",
 "IGLV1\u221251","HLA\u2212DRB5","IGKV3\u22127","IGKV1D\u221213","IGKV1\u221212","IGKV1\u22125","IGKV2\u221230","IGLV3\u221221","IGLV3\u22121","IGKV1D\u221239","IGLV1\u221240",
 "IGKV1\u221227","IGKV1\u221217","IGLV3\u22129","IGKV3\u221220","IGLV1\u221244","IGKV2\u221229","IGKV1\u22129","IGLV3\u221227","IGKV1\u221239","IGLV3\u221219","IGKV1\u22126","PHB2","UBE2J1",
 "IGHV3\u221266","IGHV6\u22121","IGHV3\u221211","IGHV5\u221251","IGHV4\u221239","IGHV3\u221248","IGHV1\u221218","IGHV3\u221230","IGHV3\u221253","IGHV3\u221221","IGLL5",
 "IGHV4\u221234","IGHV4\u221259","IGHV1\u22123","IGHV4\u221231","IGHV3\u221249","CD38","IGHV3\u221273"]
c_tx = [357,514,637,360,480,612,285,424,605,780,258,435,570,747,302,572,736,268,365,713,263,530,306,585,263,430,317,505,258,590,422,357,405,245,
        864,723,880,675,848,842,880,880,608,797,535,862,690,853,515,811,500,638]
c_ty = [228,202,257,290,312,327,346,400,402,382,414,455,472,477,508,530,532,563,617,658,670,696,725,757,787,787,841,845,895,922,926,985,1040,1085,
        738,813,817,868,876,960,1016,1179,1217,1235,1272,1321,1348,1383,1386,1438,1448,1462]
c_cat_txt = ["immunoglobulin production","production of molecular mediator of immune response","phagocytosis, recognition",
             "B cell receptor signaling pathway","complement activation, classical pathway"]
c_cat_tx = [443,186,771,522,186]
c_cat_ty = [548,603,1071,1106,1160]
c_cat_ha = ["center","left","center","center","left"]
c_links = [((636,357),(690,380)),((303,473),(345,453)),((498,880),(510,908)),((800,808),(830,790)),((758,865),(772,870)),((350,800),(345,825))]
c_legend_terms = ["B cell receptor signaling pathway","complement activation, classical pathway","immunoglobulin production",
                  "phagocytosis, recognition","production of molecular mediator of immune response"]

# ---------- network F (layout coordinates) ----------
f_cat = {"m":(675,398),"g":(708,402),"n":(220,1050),"d":(452,1228),"r":(497,1222)}
f_cat_size = {"m":54,"g":54,"n":52,"d":66,"r":66}
f_gx = [585,658,742,522,815,420,861,515,878,503,870,566,828,759,668,
        95,347,412,468,352,627,725,315,265,642,297,719,345,617,552,469]
f_gy = [208,187,205,257,268,350,355,368,447,471,534,545,604,620,608,
        868,992,988,1015,1084,1101,1160,1170,1223,1248,1295,1310,1334,1377,1430,1445]
f_gsets = ["mg"]*15 + ["n","ndr","ndr","dr","ndr","dr","r","ndr","ndr","dr","dr","r","ndr","dr","dr","dr"]
f_gene_txt = ["IGLV3\u22121","IGLV3\u221219","IGLV3\u221221","HLA\u2212E","IGKV4\u22121","HLA\u2212A","IGKV3\u221215","IGLV2\u221211","IGLV1\u221251","IGKV1\u22129","IGKV1\u22125",
 "IGKV3\u221220","IGLV3\u221225","HLA\u2212DQB1","IGLV1\u221240","LY6E","MX1","APOBEC3C","IFITM1","IFI16","IFIT3","EIF2AK2","ENO1","OAS1","STAT1","IFI6","POU2F2","ADAR","ISG15","IFI44L","MX2"]
f_tx = [510,678,762,502,830,367,585,698,825,444,832,465,648,810,740,148,297,453,622,420,682,288,744,243,148,676,740,596,365,572,448]
f_ty = [178,155,240,292,302,320,348,360,415,503,504,562,578,570,654,893,967,958,1070,1085,1127,1135,1194,1192,1265,1282,1345,1345,1370,1464,1480]
f_cat_txt = ["production of molecular mediator of immune response","immunoglobulin production","negative regulation of viral process",
             "response to virus","defense response to virus"]
f_cat_tx = [65,663,345,517,420]
f_cat_ty = [407,447,1026,1185,1263]
f_cat_ha = ["left","center","center","center","center"]
f_links = [((785,357),(858,355)),((490,1032),(565,1070)),((352,1084),(378,1084)),((205,1265),(297,1295))]
f_legend_terms = ["defense response to virus","immunoglobulin production","negative regulation of viral process",
                  "production of molecular mediator of immune response","response to virus"]

# ---------- drawing ----------
sns.set_theme(style="white")
plt.rcParams["font.family"] = ["Liberation Sans", "DejaVu Sans"]
plt.rcParams["axes.unicode_minus"] = True
plt.rcParams["text.color"] = "black"
W, H = 4822, 4426
DPI = 300
PT = 72 / DPI
fig = plt.figure(figsize=(W / DPI, H / DPI), dpi=DPI, facecolor="white")

def axpx(x0, y0, x1, y1):
    return fig.add_axes([x0 / W, 1 - y1 / H, (x1 - x0) / W, (y1 - y0) / H])

ov = axpx(0, 0, W, H)
ov.set_xlim(0, W); ov.set_ylim(H, 0); ov.axis("off"); ov.set_zorder(10); ov.patch.set_alpha(0)

def T(x, y, s, fs, ha="left", va="center", **kw):
    ov.text(x, y, s, fontsize=fs, ha=ha, va=va, color="black", **kw)

for s, x, y in [("A.",46,168),("B.",1555,154),("C.",3040,163),("D.",46,2508),("E.",1433,2530),("F.",2823,2537)]:
    ov.text(x, y, s, fontsize=28.6, family="Open Sans", ha="left", va="baseline", color="black")

cmap = LinearSegmentedColormap.from_list("padj", ["#EE1C25", "#C5168D", "#3953A4"])
GREY = "#EBEBEB"

def pts(lst):
    a = np.array(lst, dtype=float)
    return a[:, 0], a[:, 1]

def volcano(rect, xlim, ylim, xmaj, xmin, ymaj, ymin, core, rest, hits, labs, lx, ly, lfs, tfs):
    ax = axpx(*rect)
    ax.set_xlim(*xlim); ax.set_ylim(*ylim)
    ax.set_axisbelow(True)
    ax.set_xticks(xmaj); ax.set_xticks(xmin, minor=True)
    ax.set_yticks(ymaj); ax.set_yticks(ymin, minor=True)
    ax.grid(which="major", color=GREY, lw=1.0)
    ax.grid(which="minor", color=GREY, lw=.7)
    ax.tick_params(which="both", length=0, labelsize=tfs, labelcolor="#111111")
    ax.tick_params(axis="x", pad=9); ax.tick_params(axis="y", pad=6)
    for sp in ax.spines.values():
        sp.set_visible(False)
    ax.axhline(0, color="black", lw=.9, zorder=1)
    ax.axvline(0, color="black", lw=1.0, zorder=1)
    x, y = pts(hits)
    sns.scatterplot(x=x, y=y, ax=ax, color="#F4734E", alpha=.85, s=23, linewidth=0, zorder=2, legend=False)
    x, y = pts(core)
    sns.scatterplot(x=x, y=y, ax=ax, color="#050708", s=105, linewidth=0, zorder=3, legend=False)
    x, y = pts(rest)
    sns.scatterplot(x=x, y=y, ax=ax, color="black", alpha=.72, s=23, linewidth=0, zorder=4, legend=False)
    ax.axline((0, 0), slope=1, color="#BEBEBE", lw=1.0, dashes=(4.9, 4.2), zorder=5)
    for s, a, b in zip(labs, lx, ly):
        ax.text(a, b, s, fontsize=lfs, ha="center", va="center", color="black", zorder=6)
    ax.set_xlabel(""); ax.set_ylabel("")
    return ax

volcano((231,135,1501,1928), (-8.41,12.07), (-9.64,8.77), [-5,0,5,10], [-7.5,-2.5,2.5,7.5], [-5,0,5], [-7.5,-2.5,2.5,7.5],
        a_core, a_left+a_right_up+a_lower+a_far+a_fringe+a_fringe_outer, a_hits, a_labels, a_label_x, a_label_y, 8.6, 8.8)
T(867,69,"Bivolcano Plot: Plasmablasts",16.2,ha="center",fontweight="bold")
T(867,2032,"TNBC vs HER2",13.1,ha="center"); T(867,2094,"Average Log2FC",13.1,ha="center")
T(54,1033,"TNBC vs ER+",13.1,ha="center",rotation=90); T(112,1033,"Average Log2FC",13.1,ha="center",rotation=90)

volcano((206,2638,1338,4234), (-8.47,8.56), (-8.64,8.54), [-5,0,5], [-7.5,-2.5,2.5,7.5], [-5,0,5], [-7.5,-2.5,2.5,7.5],
        d_core, d_upper+d_lower+d_far+d_fringe+d_fringe_outer, d_hits, d_labels, d_label_x, d_label_y, 7.3, 8.2)
T(772,2579,"Bivolcano Plot: B\u2212cells",14.4,ha="center",fontweight="bold")
T(772,4328,"TNBC vs HER2",11.7,ha="center"); T(772,4383,"Average Log2FC",11.7,ha="center")
T(49,3439,"TNBC vs ER+",11.7,ha="center",rotation=90); T(101,3439,"Average Log2FC",11.7,ha="center",rotation=90)

def dot_s(d):
    return (d * PT) ** 2

def dotplot(rect, xlim, xmaj, xmin, terms, ratio, count, padj, snorm, drange, pmax, xfmt, yfs):
    ax = axpx(*rect)
    df = pd.DataFrame({"ratio": ratio, "count": count, "padj": padj, "pos": np.arange(len(terms))})
    ax.set_axisbelow(True)
    sns.scatterplot(data=df, x="ratio", y="pos", size="count", sizes=(dot_s(drange[0]), dot_s(drange[1])), size_norm=snorm,
                    hue="padj", palette=cmap, hue_norm=(0, pmax), linewidth=0, ax=ax, legend=False, zorder=3)
    ax.set_xlim(*xlim); ax.set_ylim(len(terms) - 1 + .6, -.6)
    ax.set_xticks(xmaj); ax.set_xticks(xmin, minor=True)
    ax.set_xticklabels([xfmt % v for v in xmaj])
    ax.set_yticks(df["pos"]); ax.set_yticklabels(terms, fontsize=yfs, linespacing=1.05, color="black")
    ax.grid(which="major", axis="y", color=GREY, lw=1.2)
    ax.grid(which="major", axis="x", color=GREY, lw=.9)
    ax.grid(which="minor", axis="x", color=GREY, lw=.45)
    ax.tick_params(axis="y", length=2.2, width=1.1, color="#333333", pad=1.6, left=True)
    ax.tick_params(axis="x", which="major", length=2.2, width=1.1, color="#333333", pad=2.2, labelsize=9.4, bottom=True, labelcolor="black")
    ax.tick_params(axis="x", which="minor", length=0)
    for sp in ax.spines.values():
        sp.set_visible(True); sp.set_color("#333333"); sp.set_linewidth(.95)
    ax.set_xlabel(""); ax.set_ylabel("")
    return ax

def legend_dots(x, ys, ds, labs, lx, fs=7.1):
    for y, d, s in zip(ys, ds, labs):
        ov.scatter([x], [y], s=dot_s(d), color="#030507", linewidth=0)
        T(lx, y, s, fs)

def colorbar(rect, vmax, ticks, labels, labelsize=7.0):
    cax = axpx(*rect)
    cb = fig.colorbar(ScalarMappable(norm=Normalize(0, vmax), cmap=cmap), cax=cax)
    cb.outline.set_visible(False)
    cb.set_ticks(ticks); cb.set_ticklabels(labels)
    cax.tick_params(axis="y", left=True, right=True, direction="in", color="white", length=2.8, width=.4, labelsize=labelsize, pad=3.6, labelcolor="black")

b_norm = (13, 33)
dotplot((2416,259,2900,1461), (.1285,.2765), [.16,.20,.24], [.14,.18,.22,.26], b_terms, b_ratio, b_count, b_padj, b_norm, (26,61), 7.22e-13, "%.2f", 9.3)
T(2416,219,"Top Dotplot \u2212 Plasmablasts",9.9)
T(2658,1538,"GeneRatio",9.3,ha="center")
T(2953,562,"Count",8.6)
legend_dots(2988,[623,679,743],[41,50,56],["20","25","30"],3038)
T(2953,864,"p.adjust",8.6)
colorbar((2953,898,3011,1175),7.22e-13,[2e-13,4e-13,6e-13],["2e\u221213","4e\u221213","6e\u221213"])

e_norm = (5, 15)
dotplot((2198,2657,2705,3832), (.0711,.2421), [.10,.15,.20], [.075,.125,.175,.225], e_terms, e_ratio, e_count, e_padj, e_norm, (26,58), 13.36e-6, "%.2f", 9.05)
T(2198,2617,"Top Dotplot \u2212 B\u2212cells",9.7)
T(2450,3908,"GeneRatio",9.3,ha="center")
T(2757,2890,"Count",8.6)
legend_dots(2793,[2949,3003,3060,3122,3190],[26,41,50,56,60],["5.0","7.5","10.0","12.5","15.0"],2846)
T(2757,3314,"p.adjust",8.6)
colorbar((2757,3345,2811,3618),13.36e-6,[2.5e-6,5e-6,7.5e-6,10e-6,12.5e-6],["2.50e\u221206","5.00e\u221206","7.50e\u221206","1.00e\u221205","1.25e\u221205"])

def network(rect, xlim, ylim, cats, catsize, gx, gy, gsets, palette, gtxt, tx, ty, ctxt, ctx, cty, cha, links, cfs):
    ax = axpx(*rect)
    ax.set_xlim(*xlim); ax.set_ylim(*ylim); ax.axis("off")
    for x, y, sets in zip(gx, gy, gsets):
        for k in sets:
            ax.plot([x, cats[k][0]], [y, cats[k][1]], color=palette[k], lw=1.25, zorder=1, solid_capstyle="butt")
    sns.scatterplot(x=gx, y=gy, ax=ax, color="#B3B3B3", s=dot_s(26), linewidth=0, zorder=2, legend=False)
    cx = [v[0] for v in cats.values()]; cy = [v[1] for v in cats.values()]
    cs = [dot_s(catsize[k]) for k in cats]
    ax.scatter(cx, cy, s=cs, color="#E5C494", linewidth=0, zorder=3)
    ax.set_xlim(*xlim); ax.set_ylim(*ylim)
    for a, b in links:
        ax.plot([a[0], b[0]], [a[1], b[1]], color="black", lw=.3, zorder=4)
    for s, x, y in zip(gtxt, tx, ty):
        ax.text(x, y, s, fontsize=10.2, ha="center", va="center", color="black", clip_on=True, zorder=5)
    for s, x, y, h in zip(ctxt, ctx, cty, cha):
        ax.text(x, y, s, fontsize=cfs, ha=h, va="center", color="black", clip_on=True, zorder=5)
    return ax

SAL, OLI, GRN, BLU, MAU = "#F4847B", "#ABAB4C", "#4DBD90", "#55B5E8", "#BE86C2"
network((3130,100,4112,1500), (150,968), (1560,0), c_cat, c_cat_size, c_gx, c_gy, c_gsets,
        {"i":GRN,"p":MAU,"f":BLU,"b":SAL,"c":OLI}, c_gene_txt, c_tx, c_ty, c_cat_txt, c_cat_tx, c_cat_ty, c_cat_ha, c_links, 9.6)
T(3164,235,"Top Cnetplot \u2212 Plasmablasts",8.8)
T(4126,600,"size",8.0)
legend_dots(4158,[655,706,764],[38,48,53],["10","20","30"],4205)
T(4126,832,"category",8.0)
for y, s, c in zip([885,935,984,1033,1083], c_legend_terms, [SAL,OLI,GRN,BLU,MAU]):
    ov.plot([4131,4170],[y,y],color=c,lw=1.1)
    T(4191,y,s,6.15)

network((2998,2550,4048,4000), (40,915), (1560,0), f_cat, f_cat_size, f_gx, f_gy, f_gsets,
        {"m":BLU,"g":OLI,"n":GRN,"d":SAL,"r":MAU}, f_gene_txt, f_tx, f_ty, f_cat_txt, f_cat_tx, f_cat_ty, f_cat_ha, f_links, 10.4)
T(3017,2643,"Top Cnetplot \u2212 B\u2212cells",9.5)
T(4066,2982,"category",8.0)
for y, s, c in zip([3042,3095,3148,3202,3256], f_legend_terms, [SAL,OLI,GRN,BLU,MAU]):
    ov.plot([4071,4116],[y,y],color=c,lw=1.1)
    T(4138,y,s,6.69)
T(4066,3320,"size",8.0)
legend_dots(4102,[3380,3435,3489,3551,3619],[24,41,49,54,58],["3","6","9","12","15"],4154)

ov.set_xlim(0, W); ov.set_ylim(H, 0)
fig.savefig("out.png", dpi=DPI, facecolor="white")
